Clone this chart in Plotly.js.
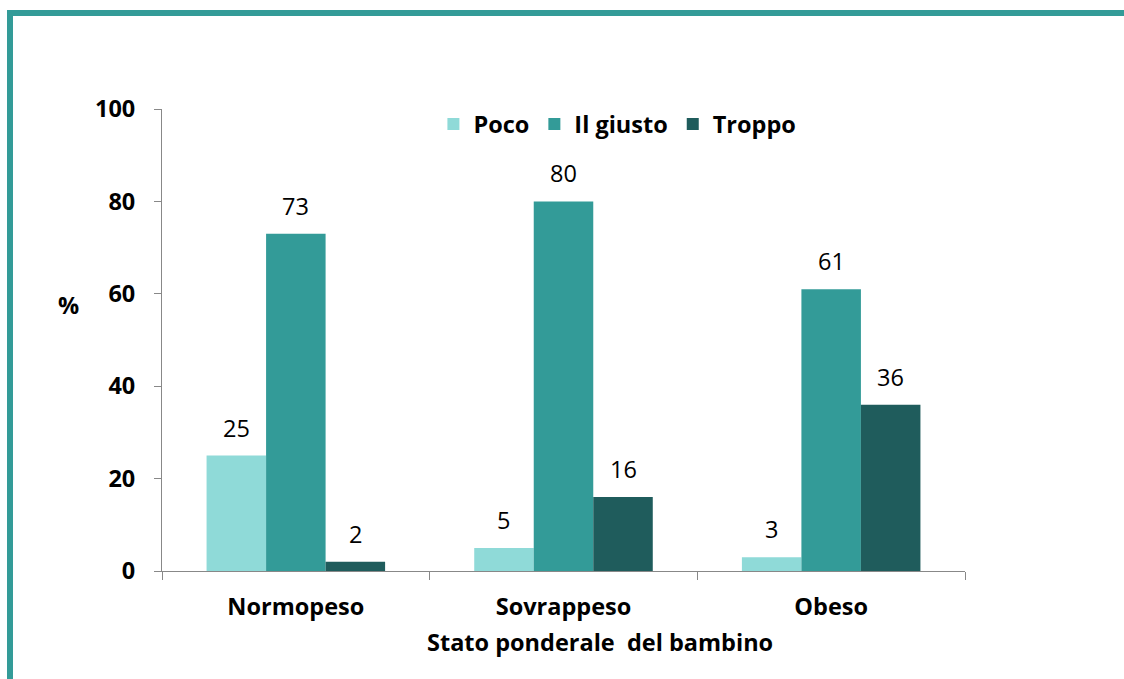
<!DOCTYPE html>
<html>
<head>
<meta charset="utf-8">
<script src="https://cdn.plot.ly/plotly-3.0.1.min.js"></script>
<style>
  html, body { margin: 0; padding: 0; background: #fff; }
  #wrap { position: relative; width: 1124px; height: 679px; overflow: hidden; }
  #chart { position: absolute; left: 0; top: 0; width: 1124px; height: 679px; }
  #btop { position: absolute; left: 7px; top: 10px; width: 1117px; height: 6px; background: #339B98; }
  #bleft { position: absolute; left: 7px; top: 10px; width: 6px; height: 669px; background: #339B98; }
</style>
</head>
<body>
<div id="wrap">
  <div id="chart"></div>
  <div id="btop"></div>
  <div id="bleft"></div>
</div>
<script>
const categories = ['Normopeso', 'Sovrappeso', 'Obeso'];
const seriesNames = ['Poco', 'Il giusto', 'Troppo'];
const poco = [25, 5, 3];
const ilGiusto = [73, 80, 61];
const troppo = [2, 16, 36];
const yTicks = [0, 20, 40, 60, 80, 100];
const xTitle = 'Stato ponderale  del bambino';
const yTitle = '%';

const colors = ['#8FDAD8', '#339B98', '#1F5C5C'];
const seriesValues = [poco, ilGiusto, troppo];
const fontFam = '"Open Sans", Lato, sans-serif';
const bigSize = 23.5;

const traces = seriesValues.map((vals, i) => ({
  type: 'bar',
  name: seriesNames[i],
  x: categories,
  y: vals,
  marker: { color: colors[i], line: { width: 0 } },
  hoverinfo: 'none'
}));

const plotW = 1124 - 162 - 159;
const barW = plotW / 3 * (1 - 0.333) / 3;
const annotations = [];
seriesValues.forEach((vals, i) => {
  vals.forEach((v, j) => {
    annotations.push({
      x: categories[j], y: v, xref: 'x', yref: 'y',
      text: String(v), showarrow: false,
      xshift: (i - 1) * barW, yanchor: 'bottom', yshift: 10,
      font: { family: fontFam, size: 23.5, color: '#000' }
    });
  });
});
annotations.push({
  xref: 'paper', yref: 'paper', x: -0.117, y: 0.575, xanchor: 'center', yanchor: 'middle',
  text: '<b>' + yTitle + '</b>', showarrow: false,
  font: { family: fontFam, size: bigSize, color: '#000' }
});
annotations.push({
  xref: 'paper', yref: 'paper', x: 0.545, y: -0.154, xanchor: 'center', yanchor: 'middle',
  text: '<b>' + xTitle + '</b>', showarrow: false,
  font: { family: fontFam, size: bigSize, color: '#000' }
});

const layout = {
  width: 1124, height: 679,
  margin: { l: 162, r: 159, t: 109, b: 108 },
  paper_bgcolor: 'rgba(0,0,0,0)',
  plot_bgcolor: 'rgba(0,0,0,0)',
  barmode: 'group',
  bargap: 0.333,
  bargroupgap: 0,
  showlegend: true,
  legend: {
    orientation: 'h', x: 0.338, y: 0.967, xanchor: 'left', yanchor: 'middle',
    font: { family: fontFam, size: bigSize, color: '#000', weight: 'bold' },
    bgcolor: 'rgba(0,0,0,0)', traceorder: 'normal'
  },
  xaxis: {
    type: 'category',
    showline: true, linecolor: '#888', linewidth: 1,
    ticks: 'outside', tickson: 'boundaries', ticklen: 8, tickcolor: '#888',
    ticklabelstandoff: 15,
    tickfont: { family: fontFam, size: bigSize, color: '#000', weight: 'bold' },
    showgrid: false, zeroline: false
  },
  yaxis: {
    range: [0, 100],
    tickvals: yTicks, ticktext: yTicks.map(String),
    showline: true, linecolor: '#888', linewidth: 1,
    ticks: 'outside', ticklen: 7, tickcolor: '#888',
    ticklabelstandoff: 14,
    tickfont: { family: fontFam, size: bigSize, color: '#000', weight: 'bold' },
    showgrid: false, zeroline: false
  },
  annotations: annotations
};

Plotly.newPlot('chart', traces, layout, { displayModeBar: false, staticPlot: true });
</script>
</body>
</html>
